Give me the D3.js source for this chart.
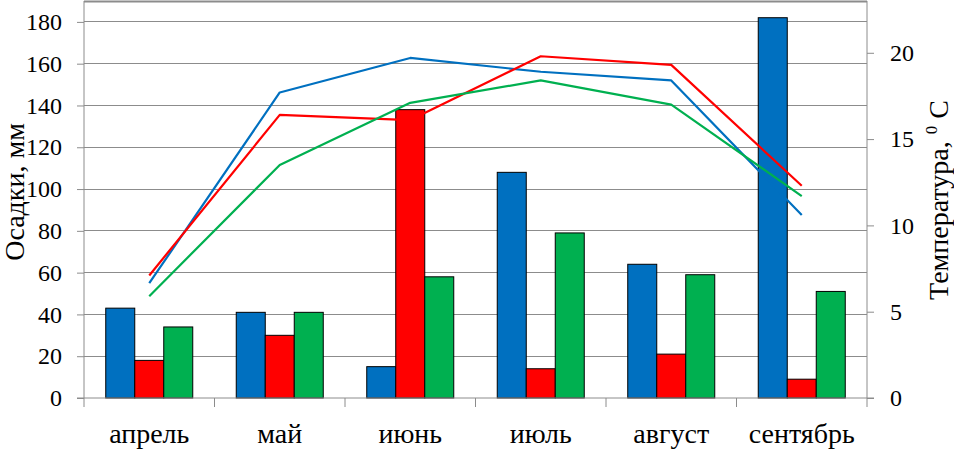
<!DOCTYPE html>
<html><head><meta charset="utf-8">
<script src="https://cdn.jsdelivr.net/npm/d3@7"></script>
<style>
body{margin:0;background:#fff;}
svg{display:block;}
text{font-family:'Liberation Serif';}
</style></head><body>
<svg id="c" width="954" height="450">
<text id="ltitle" transform="translate(24,192) rotate(-90)" text-anchor="middle" font-size="28" font-family="Liberation Serif" fill="#000">Осадки, мм</text>
<text id="rtitle" transform="translate(948,200) rotate(-90)" text-anchor="middle" font-size="28" font-family="Liberation Serif" fill="#000">Температура, <tspan font-size="17" dy="-11">0</tspan><tspan dy="11"> С</tspan></text>
</svg>
<script>
const categories = ["апрель","май","июнь","июль","август","сентябрь"];
const precipBlue  = [43, 41, 15, 108, 64, 182];
const precipRed   = [18, 30, 138, 14, 21, 9];
const precipGreen = [34, 41, 58, 79, 59, 51];
const tempBlue  = [6.65, 17.7, 19.7, 18.9, 18.4, 10.6];
const tempRed   = [7.1, 16.4, 16.1, 19.8, 19.3, 12.3];
const tempGreen = [5.9, 13.5, 17.1, 18.4, 17.0, 11.7];
const leftTicks = [0,20,40,60,80,100,120,140,160,180];
const rightTicks = [0,5,10,15,20];
const colors = ["#0070C0","#FF0000","#00B050"];
const FONT = "Liberation Serif";

const svg = d3.select("#c");
const L = 84, R = 867, T = 1, B = 398;
const x = d3.scaleBand().domain(categories).range([L, R]).paddingInner(0).paddingOuter(0);
const yL = d3.scaleLinear().domain([0, 190]).range([B, T]);
const yR = d3.scaleLinear().domain([0, 23]).range([B, T]);
const bw = x.bandwidth();
const barW = bw / 4.5;
const xs = d3.scaleBand().domain([0,1,2]).range([0, barW*3]);

const root = svg.insert("g", "#ltitle");

// gridlines
root.append("g").selectAll("line").data(leftTicks.filter(d=>d>0)).join("line")
  .attr("x1", L).attr("x2", R).attr("y1", d=>yL(d)).attr("y2", d=>yL(d))
  .attr("stroke", "#8c8c8c").attr("stroke-width", 1).attr("shape-rendering","crispEdges");
root.append("line").attr("x1",L).attr("x2",R).attr("y1",T+0.5).attr("y2",T+0.5)
  .attr("stroke","#8c8c8c").attr("stroke-width",2);

// bars
const precip = [precipBlue, precipRed, precipGreen];
precip.forEach((arr, s) => {
  root.append("g").selectAll("rect").data(arr).join("rect")
    .attr("x", (d,i) => x(categories[i]) + (bw - barW*3)/2 + xs(s))
    .attr("y", d => yL(d))
    .attr("width", barW)
    .attr("height", d => B - yL(d))
    .attr("fill", colors[s])
    .attr("stroke", "#000").attr("stroke-width", 1);
});

// lines
const temps = [tempBlue, tempRed, tempGreen];
const line = d3.line().x((d,i)=>x(categories[i]) + bw/2).y(d=>yR(d));
temps.forEach((arr, s) => {
  root.append("path").datum(arr).attr("d", line)
    .attr("fill","none").attr("stroke", colors[s]).attr("stroke-width", 2.2)
    .attr("stroke-linejoin","round");
});

// left axis
const axL = root.append("g").attr("transform", `translate(${L},0)`)
  .call(d3.axisLeft(yL).tickValues(leftTicks).tickSize(7).tickPadding(15));
axL.attr("font-family", FONT);
axL.select(".domain").attr("stroke","#8c8c8c").attr("d", `M-7,${B}H0V${T}`);
axL.selectAll(".tick line").attr("stroke","#8c8c8c");
axL.selectAll("text").attr("font-size", 24).attr("fill","#000").attr("font-family", FONT);

// right axis
const axR = root.append("g").attr("transform", `translate(${R},0)`)
  .call(d3.axisRight(yR).tickValues(rightTicks).tickSize(7).tickPadding(16));
axR.attr("font-family", FONT);
axR.select(".domain").attr("stroke","#8c8c8c").attr("d", `M7,${B}H0V${T}`);
axR.selectAll(".tick line").attr("stroke","#8c8c8c");
axR.selectAll("text").attr("font-size", 24).attr("fill","#000").attr("font-family", FONT);

// bottom axis
const bounds = categories.map(c => x(c)).concat([R]);
root.append("line").attr("x1",L).attr("x2",R).attr("y1",B).attr("y2",B)
  .attr("stroke","#8c8c8c").attr("stroke-width",1);
root.append("g").selectAll("line").data(bounds).join("line")
  .attr("x1",d=>d).attr("x2",d=>d).attr("y1",B).attr("y2",B+9)
  .attr("stroke","#8c8c8c").attr("stroke-width",1);
root.append("g").selectAll("text").data(categories).join("text")
  .attr("x", d => x(d) + bw/2).attr("y", 443)
  .attr("text-anchor","middle").attr("font-size", 28).attr("fill","#000")
  .attr("font-family", FONT)
  .text(d=>d);

// re-parse the generated markup so every text element is laid out like parsed SVG
const node = svg.node();
node.innerHTML = node.innerHTML;
</script>
</body></html>
